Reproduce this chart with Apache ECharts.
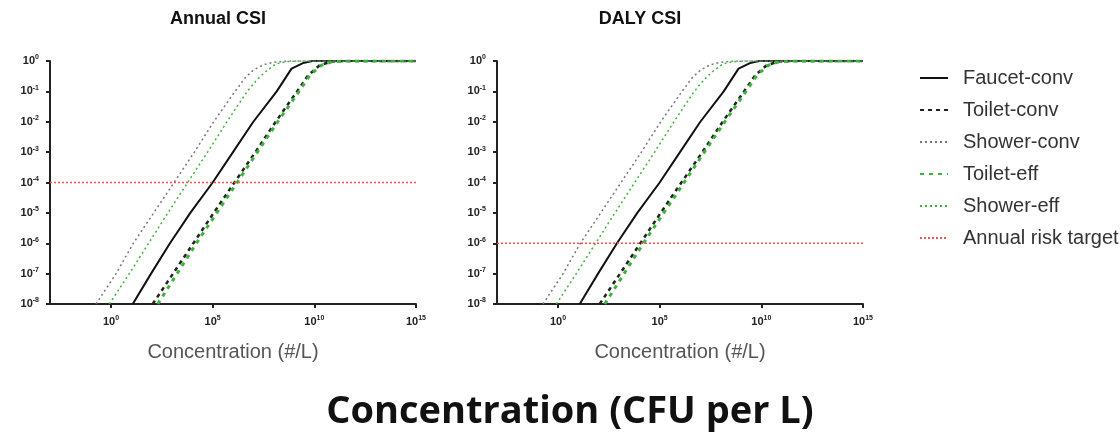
<!DOCTYPE html>
<html>
<head>
<meta charset="utf-8">
<script src="https://cdn.jsdelivr.net/npm/echarts@6/dist/echarts.min.js"></script>
<style>
html, body { margin: 0; padding: 0; background: #fff; }
#main { width: 1120px; height: 433px; }
</style>
</head>
<body>
<div id="main"></div>
<script>
// values are log10 exponents: [log10 concentration, log10 risk]
var xTicks = [0, 5, 10, 15]
var faucetConv = [[1.07,-8],[1.97,-7],[2.9,-6],[3.9,-5],[5.0,-4],[6.0,-3],[7.0,-2],[8.15,-1],[8.88,-0.25],[9.44,-0.07],[9.9,0],[15,0]]
var toiletConv = [[2.05,-8],[3.05,-7],[4.05,-6],[5.05,-5],[6.07,-4],[7.1,-3],[8.1,-2],[9.15,-1],[9.7,-0.47],[10.25,-0.15],[10.8,-0.02],[11.4,0],[15,0]]
var showerConv = [[-0.74,-8],[0.25,-7],[1.1,-6],[2.1,-5],[3.1,-4],[4.1,-3],[5.05,-2],[6.1,-1],[6.6,-0.55],[7.0,-0.3],[7.5,-0.12],[8.0,-0.04],[8.6,0],[15,0]]
var toiletEff = [[2.3,-8],[3.25,-7],[4.2,-6],[5.2,-5],[6.2,-4],[7.2,-3],[8.2,-2],[9.25,-1],[9.8,-0.45],[10.35,-0.14],[10.9,-0.02],[11.5,0],[15,0]]
var showerEff = [[-0.08,-8],[0.9,-7],[1.85,-6],[2.8,-5],[3.77,-4],[4.75,-3],[5.7,-2],[6.7,-1],[7.2,-0.6],[7.6,-0.35],[8.1,-0.1],[8.6,-0.02],[9.2,0],[15,0]]
var annualTarget = [[-3,-4],[15,-4]]
var dalyTarget = [[-3,-6],[15,-6]]

var chart = echarts.init(document.getElementById('main'))

var green = '#3cb43c'
function line(name, idx, data, color, width, type) {
    return {
        name: name, type: 'line', xAxisIndex: idx, yAxisIndex: idx, data: data,
        symbol: 'none', color: color,
        lineStyle: {color: color, width: width, type: type}
    }
}
function curves(idx, target) {
    return [
        line('Faucet-conv', idx, faucetConv, '#111', 2, 'solid'),
        line('Toilet-conv', idx, toiletConv, '#222', 2.5, [4, 4]),
        line('Shower-conv', idx, showerConv, '#777', 1.5, [2, 3]),
        line('Toilet-eff', idx, toiletEff, green, 3, [4, 5]),
        line('Shower-eff', idx, showerEff, green, 1.5, [2, 3]),
        line('Annual risk target', idx, target, '#ff5050', 1.5, [2, 2])
    ]
}

var tickRich = {
    b: {fontSize: 11, fontWeight: 'bold', color: '#222', fontFamily: 'Liberation Sans'},
    s: {fontSize: 7, fontWeight: 'bold', color: '#222', fontFamily: 'Liberation Sans', padding: [0, 0, 7, 0]}
}
function powLabel(v) {
    return '{b|10}{s|' + Math.round(v) + '}'
}

function xAxis(idx) {
    return {
        type: 'value', gridIndex: idx, min: -3, max: 15,
        name: 'Concentration (#/L)', nameLocation: 'middle', nameGap: 38,
        nameTextStyle: {fontSize: 20, color: '#555', fontFamily: 'Liberation Sans'},
        axisLine: {onZero: false, lineStyle: {color: '#222', width: 2}},
        axisTick: {customValues: xTicks, length: 4, lineStyle: {color: '#222', width: 2}},
        axisLabel: {customValues: xTicks, formatter: powLabel, rich: tickRich, margin: 11},
        splitLine: {show: false}
    }
}
function yAxis(idx) {
    return {
        type: 'value', gridIndex: idx, min: -8, max: 0, interval: 1,
        axisLine: {show: true, onZero: false, lineStyle: {color: '#222', width: 2}},
        axisTick: {show: true, length: 4, lineStyle: {color: '#222', width: 2}},
        axisLabel: {formatter: powLabel, rich: tickRich, margin: 11},
        splitLine: {show: false}
    }
}

var option = {
    animation: false,
    grid: [
        {left: 50, top: 61, width: 366, height: 243},
        {left: 497, top: 61, width: 366, height: 243}
    ],
    xAxis: [xAxis(0), xAxis(1)],
    yAxis: [yAxis(0), yAxis(1)],
    legend: {
        orient: 'vertical', left: 919, top: 68, padding: 0,
        itemStyle: {opacity: 0},
        itemWidth: 28, itemHeight: 14, itemGap: 12,
        textStyle: {fontSize: 20, color: '#333', fontFamily: 'Liberation Sans', lineHeight: 20, padding: [0, 0, 0, 10]},
        data: ['Faucet-conv', 'Toilet-conv', 'Shower-conv', 'Toilet-eff', 'Shower-eff', 'Annual risk target']
    },
    graphic: [
        {type: 'text', x: 218, y: 10, style: {text: 'Annual CSI', fontSize: 18, fontWeight: 'bold', fontFamily: 'Liberation Sans', fill: '#111', textAlign: 'center'}},
        {type: 'text', x: 640, y: 10, style: {text: 'DALY CSI', fontSize: 18, fontWeight: 'bold', fontFamily: 'Liberation Sans', fill: '#111', textAlign: 'center'}},
        {type: 'text', x: 570, y: 412, style: {text: 'Concentration (CFU per L)', fontSize: 38, fontWeight: 'bold', fontFamily: 'Open Sans', fill: '#111', textAlign: 'center', textVerticalAlign: 'middle'}}
    ],
    series: curves(0, annualTarget).concat(curves(1, dalyTarget))
}
chart.setOption(option)
</script>
</body>
</html>
